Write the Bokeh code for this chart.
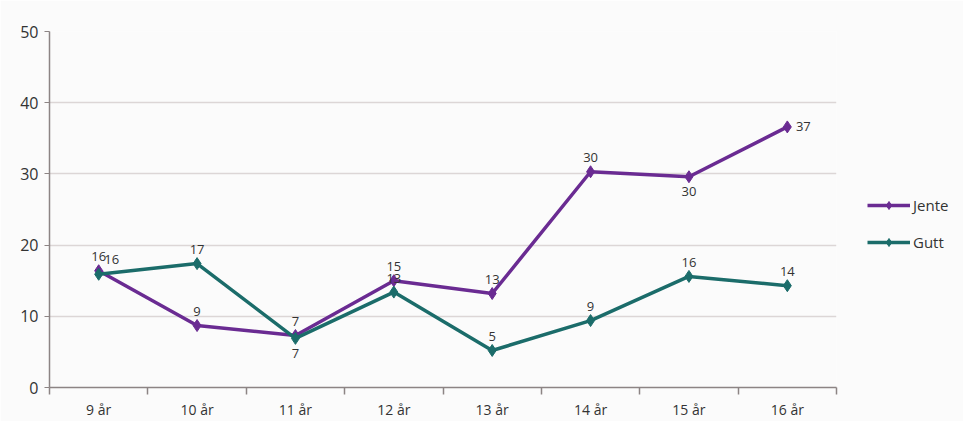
from bokeh.plotting import figure
from bokeh.models import FixedTicker, Legend, LegendItem, ColumnDataSource, Range1d
from bokeh.core.properties import value
from bokeh.embed import file_html
from bokeh.resources import INLINE

categories = ["9 år", "10 år", "11 år", "12 år", "13 år", "14 år", "15 år", "16 år"]
jente = [16.4, 8.7, 7.3, 15.0, 13.2, 30.3, 29.6, 36.6]
gutt = [15.9, 17.4, 6.9, 13.4, 5.2, 9.4, 15.6, 14.3]
jente_label_pos = ["above", "above", "above", "above", "above", "above", "below", "right"]
gutt_label_pos = ["above_right", "above", "below", "above", "above", "above", "above", "above"]
y_ticks = [0, 10, 20, 30, 40, 50]

PURPLE = "#6a2b92"
TEAL = "#1b6c6a"
TXT = "#333333"
FONT = "Open Sans"
OFFS = {"above": (0, -14), "below": (0, 15), "right": (16, 0), "above_right": (13, -15)}

xs = [i + 0.5 for i in range(len(categories))]

p = figure(frame_width=787, frame_height=356, output_backend="svg", toolbar_location=None,
           x_range=Range1d(0, len(categories)), y_range=Range1d(0, 50),
           min_border_left=49, min_border_top=31, min_border_bottom=0, min_border_right=0)
p.background_fill_color = "#fbfbfb"
p.border_fill_color = "#fbfbfb"
p.outline_line_color = None

p.xgrid.grid_line_color = None
p.ygrid.grid_line_color = "#dcd6d6"
p.ygrid.grid_line_width = 1.5

p.yaxis.ticker = FixedTicker(ticks=y_ticks)
p.yaxis.axis_line_color = "#8c8484"
p.yaxis.axis_line_width = 1.5
p.yaxis.major_tick_line_color = "#8c8484"
p.yaxis.major_tick_out = 5
p.yaxis.major_tick_in = 0
p.yaxis.minor_tick_line_color = None
p.yaxis.major_label_text_font = FONT
p.yaxis.major_label_text_font_size = "16px"
p.yaxis.major_label_text_color = TXT
p.yaxis.major_label_standoff = 6

p.xaxis.ticker = FixedTicker(ticks=xs, minor_ticks=list(range(len(categories) + 1)))
p.xaxis.major_label_overrides = {x: c for x, c in zip(xs, categories)}
p.xaxis.axis_line_color = "#8c8484"
p.xaxis.axis_line_width = 1.5
p.xaxis.major_tick_line_color = None
p.xaxis.major_tick_out = 0
p.xaxis.major_tick_in = 0
p.xaxis.minor_tick_line_color = "#8c8484"
p.xaxis.minor_tick_line_width = 1.5
p.xaxis.minor_tick_out = 7
p.xaxis.minor_tick_in = 0
p.xaxis.major_label_text_font = FONT
p.xaxis.major_label_text_font_size = "14px"
p.xaxis.major_label_text_color = TXT
p.xaxis.major_label_standoff = 5

items = []
for name, vals, pos, col in [("Jente", jente, jente_label_pos, PURPLE), ("Gutt", gutt, gutt_label_pos, TEAL)]:
    src = ColumnDataSource(dict(
        x=xs, y=vals, lab=[str(int(round(v))) for v in vals],
        dx=[OFFS[q][0] for q in pos], dy=[OFFS[q][1] for q in pos]))
    ln = p.line("x", "y", source=src, line_color=col, line_width=3.5)
    sc = p.scatter("x", "y", source=src, marker="diamond", size=12, fill_color=col, line_color=col)
    p.text("x", "y", text="lab", source=src, x_offset="dx", y_offset="dy",
           text_align="center", text_baseline="middle", text_font=value(FONT),
           text_font_size="13px", text_color=TXT)
    items.append(LegendItem(label=name, renderers=[ln, sc]))

legend = Legend(items=items, location=(31, 135), orientation="vertical")
legend.background_fill_alpha = 0
legend.border_line_color = None
legend.label_text_font = FONT
legend.label_text_font_size = "15px"
legend.label_text_color = TXT
legend.glyph_width = 43
legend.glyph_height = 20
legend.label_height = 20
legend.label_standoff = 3
legend.spacing = 17
legend.margin = 0
legend.padding = 0
p.add_layout(legend, "right")

open("out.html", "w").write(file_html(p, INLINE))
